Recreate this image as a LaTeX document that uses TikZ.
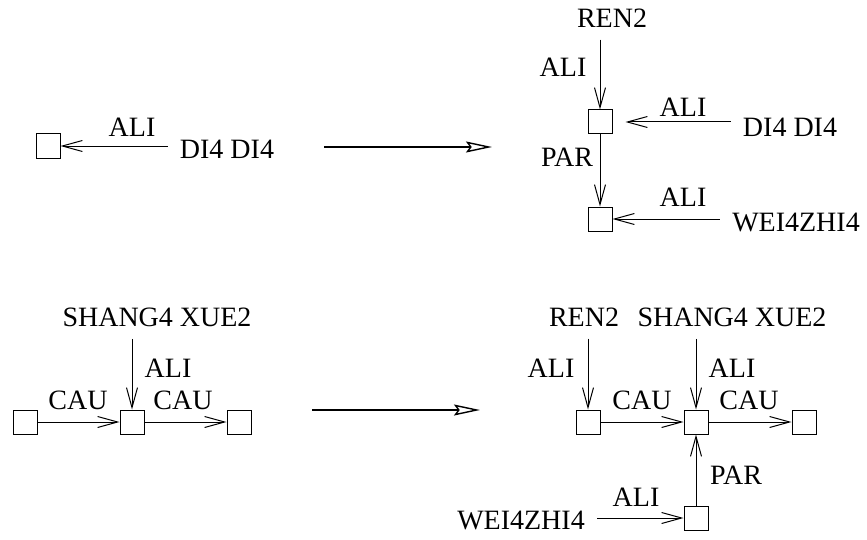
\documentclass[tikz,border=0pt]{standalone}
\usepackage{fontspec}
\setmainfont{Liberation Serif}
\usetikzlibrary{arrows.meta}
\tikzset{
 rewrite/.style={font=\fontsize{14}{16}\selectfont,line cap=butt,line join=miter},
 box/.style={rectangle,draw,fill=white,line width=.5pt,inner sep=0pt,minimum size=12pt},
 word/.style={inner sep=6pt},
 lab/.style={inner sep=0pt},
 link/.style={draw,line width=.5pt,-{Straight Barb[length=10pt,width=5.5pt]}},
 stepto/.style={draw,line width=.7pt,-{Stealth[open,length=13pt,width=5.5pt,inset=2pt]}}
}
\begin{document}
\begin{tikzpicture}[rewrite,x=.5pt,y=-.5pt]
 \useasboundingbox (0,0) rectangle (867,540);
 % top left
 \node[box] (b1) at (48,146) {};
 \node[word] (d1) at (227,149) {DI4 DI4};
 \node[lab] (l1) at (132,127) {ALI};
 \draw[link] (d1.west |- b1) -- (b1.east);
 % top rewrite arrow
 \coordinate (t1s) at (324,147);
 \coordinate (t1e) at (492,147);
 \draw[stepto] (t1s) -- (t1e);
 % top right
 \node[word] (r1) at (612,18) {REN2};
 \node[box] (b2) at (600,122) {};
 \node[box] (b3) at (600,219) {};
 \node[word] (d2) at (790,127) {DI4 DI4};
 \node[word] (w1) at (796,222) {WEI4ZHI4};
 \node[lab] (l2) at (563,67) {ALI};
 \node[lab] (l3) at (683,107) {ALI};
 \node[lab] (l4) at (567,157) {PAR};
 \node[lab] (l5) at (683,197) {ALI};
 \draw[link] (r1.south -| b2) -- (b2.north);
 \draw[link,shorten >=6.5pt] (d2.west |- b2) -- (b2.east);
 \draw[link] (b2.south) -- (b3.north);
 \draw[link] (w1.west |- b3) -- (b3.east);
 % bottom left
 \node[word] (s1) at (157,317) {SHANG4 XUE2};
 \node[box] (c1) at (25,422) {};
 \node[box] (c2) at (132,422) {};
 \node[box] (c3) at (239,422) {};
 \node[lab] (l6) at (168,368) {ALI};
 \node[lab] (l7) at (78,400) {CAU};
 \node[lab] (l8) at (183,400) {CAU};
 \draw[link] (s1.south -| c2) -- (c2.north);
 \draw[link] (c1.east) -- (c2.west);
 \draw[link] (c2.east) -- (c3.west);
 % bottom rewrite arrow
 \coordinate (t2s) at (312,410);
 \coordinate (t2e) at (480,410);
 \draw[stepto] (t2s) -- (t2e);
 % bottom right
 \node[word] (r2) at (584,317) {REN2};
 \node[word] (s2) at (732,317) {SHANG4 XUE2};
 \node[box] (e1) at (588,422) {};
 \node[box] (e2) at (696,422) {};
 \node[box] (e3) at (804,422) {};
 \node[box] (e4) at (696,518) {};
 \node[word] (w2) at (521,520) {WEI4ZHI4};
 \node[lab] (l9) at (551,368) {ALI};
 \node[lab] (l10) at (732,368) {ALI};
 \node[lab] (l11) at (642,400) {CAU};
 \node[lab] (l12) at (749,400) {CAU};
 \node[lab] (l13) at (736,475) {PAR};
 \node[lab] (l14) at (636,497) {ALI};
 \draw[link] (r2.south -| e1) -- (e1.north);
 \draw[link] (s2.south -| e2) -- (e2.north);
 \draw[link] (e1.east) -- (e2.west);
 \draw[link] (e2.east) -- (e3.west);
 \draw[link] (e4.north) -- (e2.south);
 \draw[link] (w2.east |- e4) -- (e4.west);
\end{tikzpicture}
\end{document}
